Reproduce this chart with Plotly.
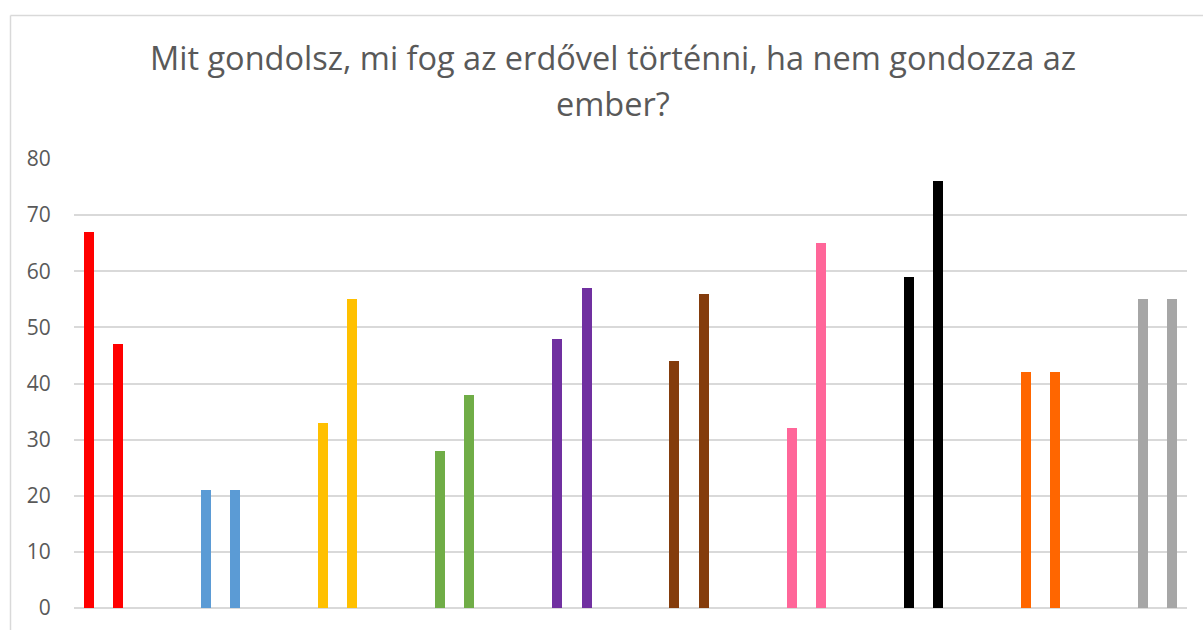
import plotly.graph_objects as go

# Data
group_colors = ["#FF0000", "#5B9BD5", "#FFC000", "#70AD47", "#7030A0",
                "#843C0C", "#FF6699", "#000000", "#FF6600", "#A6A6A6"]
first_values = [67, 21, 33, 28, 48, 44, 32, 59, 42, 55]
second_values = [47, 21, 55, 38, 57, 56, 65, 76, 42, 55]
y_ticks = [0, 10, 20, 30, 40, 50, 60, 70, 80]
title_lines = ["Mit gondolsz, mi fog az erdővel történni, ha nem gondozza az", "ember?"]

SLOTS_PER_GROUP = 4  # two bars followed by two empty slots
n_groups = len(first_values)
n_slots = SLOTS_PER_GROUP * n_groups - 2

xs, ys, cols = [], [], []
for g in range(n_groups):
    xs += [SLOTS_PER_GROUP * g, SLOTS_PER_GROUP * g + 1]
    ys += [first_values[g], second_values[g]]
    cols += [group_colors[g], group_colors[g]]

fig = go.Figure()
fig.add_trace(go.Bar(x=xs, y=ys, marker=dict(color=cols, line=dict(width=0)),
                     width=0.34, hoverinfo="y", showlegend=False))

W, H = 1203, 630
L, R, T, B = 74, 16, 159, 22
plot_h = H - T - B
plot_w = W - L - R

def py(ypix):
    return (H - B - ypix) / plot_h

def px(xpix):
    return (xpix - L) / plot_w

title_font = dict(family="Open Sans, Liberation Sans, sans-serif", size=32.5, color="#595959")
fig.add_annotation(text=title_lines[0], x=px(613), y=py(57), xref="paper", yref="paper",
                   showarrow=False, xanchor="center", yanchor="middle", font=title_font)
fig.add_annotation(text=title_lines[1], x=px(613), y=py(104), xref="paper", yref="paper",
                   showarrow=False, xanchor="center", yanchor="middle", font=title_font)

# chart-area border (left and top edges)
fig.add_shape(type="line", xref="paper", yref="paper", x0=px(10.5), x1=px(10.5),
              y0=py(15.5), y1=py(640), line=dict(color="#D9D9D9", width=1.5))
fig.add_shape(type="line", xref="paper", yref="paper", x0=px(10.5), x1=px(1210),
              y0=py(15.5), y1=py(15.5), line=dict(color="#D9D9D9", width=1.5))

fig.update_layout(
    width=W, height=H,
    margin=dict(l=L, r=R, t=T, b=B, pad=0, autoexpand=False),
    paper_bgcolor="white", plot_bgcolor="white",
    bargap=0,
    xaxis=dict(range=[-0.5, n_slots - 0.5], showticklabels=False, showgrid=False,
               zeroline=False, showline=False, ticks="", automargin=False),
    yaxis=dict(range=[0, 80], tickvals=y_ticks, showgrid=True, gridcolor="#D9D9D9",
               gridwidth=1.5, zeroline=True, zerolinecolor="#D9D9D9", zerolinewidth=1.5,
               showline=False, ticks="outside", ticklen=18, tickcolor="rgba(0,0,0,0)",
               automargin=False,
               tickfont=dict(family="Open Sans, Liberation Sans, sans-serif", size=21,
                             color="#595959")),
)

fig.write_html("out.html", config={"displayModeBar": False},
               post_script="document.body.style.margin='0px';")
